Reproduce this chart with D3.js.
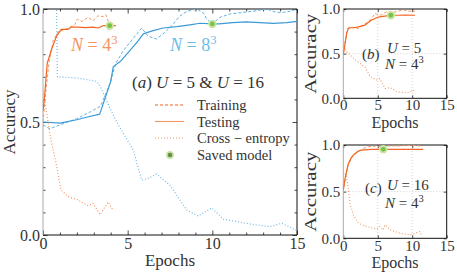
<!DOCTYPE html>
<html><head><meta charset="utf-8">
<script src="https://cdn.jsdelivr.net/npm/d3@7"></script>
<style>
html,body{margin:0;padding:0;background:#fff;}
svg{display:block;font-family:"Liberation Serif","DejaVu Serif",serif;}
</style></head>
<body><svg id="c" width="457" height="274"></svg>
<script>
// ---------- data (epoch, value) ----------
const xTicks = [0, 5, 10, 15];
const yTicks = [0, 0.5, 1];
const yTickLabels = ["0.0", "0.5", "1.0"];

const mainTrain4 = [[0,0.5],[0.15,0.62],[0.35,0.76],[0.6,0.86],[0.9,0.9],[1.3,0.91],[1.6,0.92],[1.87,0.93],[2.03,0.955],[2.3,0.945],[2.66,0.963],[2.95,0.948],[3.25,0.97],[3.55,0.966],[3.7,0.975],[3.94,0.93]];
const mainTest4 = [[0,0.55],[0.1,0.62],[0.25,0.76],[0.5,0.82],[0.8,0.88],[1.08,0.91],[1.48,0.91],[1.67,0.92],[2.07,0.92],[2.5,0.918],[2.95,0.92],[3.25,0.916],[3.54,0.926],[3.94,0.926],[4.3,0.926]];
const mainCE4 = [[0,0.64],[0.47,0.42],[0.77,0.32],[1.06,0.2],[1.48,0.17],[2.07,0.155],[2.66,0.13],[2.95,0.14],[3.37,0.09],[3.84,0.146],[4.13,0.11]];

const mainTrain8 = [[0,0.487],[0.4,0.47],[1,0.487],[2,0.515],[2.8,0.545],[3.4,0.57],[3.96,0.67],[4.3,0.76],[4.74,0.815],[5.43,0.88],[5.83,0.916],[6.2,0.88],[6.7,0.867],[7.2,0.897],[7.6,0.926],[8.1,0.97],[8.5,0.99],[9.1,1.0],[9.5,0.98],[9.67,0.955],[10,0.934],[10.45,0.963],[11.05,0.978],[11.8,0.985],[12.4,0.99],[13.2,1.0],[13.8,0.985],[14.2,0.985],[14.6,0.99],[15,1.0]];
const mainTest8 = [[0,0.5],[1,0.495],[2,0.51],[2.5,0.52],[3.35,0.535],[4.0,0.68],[4.15,0.745],[4.6,0.77],[5.0,0.805],[5.63,0.86],[5.92,0.89],[6.5,0.904],[7.1,0.916],[7.9,0.922],[8.68,0.93],[9.27,0.937],[10,0.934],[10.4,0.934],[11.2,0.94],[12,0.943],[12.8,0.94],[13.6,0.936],[14.4,0.94],[15,0.945]];
const mainCE8 = [[0,6.0],[0.85,0.70],[2.0,0.695],[3.17,0.68],[3.37,0.66],[3.96,0.56],[4.35,0.5],[4.74,0.45],[5.33,0.376],[5.83,0.243],[6.2,0.25],[6.7,0.27],[7.5,0.22],[8.5,0.11],[9.17,0.084],[9.96,0.12],[10.65,0.07],[11.44,0.06],[12.2,0.049],[13.4,0.037],[14.1,0.052],[14.6,0.034],[15.08,0.015]];
const mainSaved = [[3.94,0.926],[10.0,0.934]];

const bTrain = [[0,0.5],[0.3,0.65],[0.6,0.78],[1.0,0.8],[1.6,0.79],[2.2,0.78],[2.8,0.82],[3.5,0.85],[4.1,0.895],[4.6,0.95],[5.2,0.93],[5.6,0.935],[6.3,0.97],[7.0,0.96],[7.7,0.97],[8.7,0.99],[9.5,0.975],[10.4,0.975]];
const bTest = [[0,0.49],[0.5,0.73],[0.73,0.78],[1.0,0.79],[1.5,0.79],[2.2,0.80],[3.15,0.82],[4.1,0.877],[5.1,0.91],[6.0,0.92],[6.9,0.93],[8,0.93],[9,0.932],[10.4,0.93]];
const bCE = [[0,0.58],[0.5,0.52],[1.45,0.45],[2.4,0.39],[3.15,0.35],[3.9,0.24],[4.85,0.205],[5.3,0.22],[6.05,0.11],[6.8,0.12],[7.75,0.075],[9.2,0.06],[10.2,0.09],[10.3,0.07]];
const bSaved = [[6.9,0.93]];

const cTrain = [[0,0.5],[0.3,0.64],[0.7,0.78],[1.2,0.86],[1.7,0.9],[2.2,0.93],[2.8,0.96],[3.6,0.98],[4.3,0.985],[5.0,0.99],[5.8,0.97],[6.5,0.99],[8,0.99],[9.5,0.995],[11.3,0.99]];
const cTest = [[0,0.52],[0.3,0.66],[0.73,0.80],[1.2,0.87],[1.7,0.91],[2.2,0.935],[2.67,0.946],[4.1,0.954],[5.8,0.954],[8,0.954],[10,0.954],[11.6,0.954]];
const cCE = [[0,0.72],[0.5,0.66],[0.97,0.376],[1.45,0.25],[2.2,0.16],[3.4,0.126],[4.85,0.098],[5.3,0.126],[5.8,0.09],[6.05,0.144],[6.8,0.09],[8.2,0.055],[9.7,0.037],[11.1,0.073],[11.3,0.04]];
const cSaved = [[5.8,0.954]];

const legendLabels = ["Training", "Testing", "Cross \u2212 entropy", "Saved model"];

// ---------- styles ----------
const OR = "#f26522", ORL = "#f39a66", ORT = "#f39562";
const BL = "#3b9ad6", BLL = "#5fb2e2", BLT = "#6fbbe7";
const GREEN = "#7cc242", GREENH = "#c6e5a6";
const INK = "#333";

const svg = d3.select("#c");
const defs = svg.append("defs");

function panel(id, x0, x1, y0, y1, opts) {
  const x = d3.scaleLinear([0, 15], [x0, x1]);
  const y = d3.scaleLinear([0, 1], [y1, y0]);
  const g = svg.append("g");
  defs.append("clipPath").attr("id", id).append("rect")
    .attr("x", x0).attr("y", y0).attr("width", x1 - x0).attr("height", y1 - y0);

  if (opts.grid) {
    const gg = g.append("g").attr("stroke", "#c8c8c8").attr("stroke-width", 0.8).attr("stroke-dasharray", "1,2");
    [5, 10].forEach(v => gg.append("line").attr("x1", x(v)).attr("x2", x(v)).attr("y1", y0).attr("y2", y1));
    [0.5].forEach(v => gg.append("line").attr("x1", x0).attr("x2", x1).attr("y1", y(v)).attr("y2", y(v)));
  }

  if (opts.minor) {
    const mx = d3.range(1, 15).filter(v => v % 5 !== 0);
    const my = d3.range(1, 10).map(v => v / 10).filter(v => Math.abs(v - 0.5) > 1e-6);
    const style = s => s.call(a => a.select(".domain").remove()).selectAll("line").attr("stroke", "#999").attr("stroke-width", 0.8);
    g.append("g").attr("transform", `translate(0,${y1})`).call(d3.axisBottom(x).tickValues(mx).tickSize(-2.5).tickFormat("")).call(style);
    g.append("g").attr("transform", `translate(0,${y0})`).call(d3.axisTop(x).tickValues(mx).tickSize(-2.5).tickFormat("")).call(style);
    g.append("g").attr("transform", `translate(${x0},0)`).call(d3.axisLeft(y).tickValues(my).tickSize(-2.5).tickFormat("")).call(style);
    g.append("g").attr("transform", `translate(${x1},0)`).call(d3.axisRight(y).tickValues(my).tickSize(-2.5).tickFormat("")).call(style);
  }

  const fs = opts.tickFont;
  const major = s => s.call(a => a.select(".domain").remove());
  g.append("g").attr("transform", `translate(0,${y1})`)
    .call(d3.axisBottom(x).tickValues(xTicks).tickSize(-opts.tick).tickPadding(opts.xpad).tickFormat(d3.format("d"))).call(major);
  g.append("g").attr("transform", `translate(0,${y0})`)
    .call(d3.axisTop(x).tickValues(xTicks).tickSize(-opts.tick).tickFormat("")).call(major);
  g.append("g").attr("transform", `translate(${x0},0)`)
    .call(d3.axisLeft(y).tickValues(yTicks).tickSize(-opts.tick).tickPadding(3).tickFormat((d, i) => yTickLabels[i])).call(major);
  g.append("g").attr("transform", `translate(${x1},0)`)
    .call(d3.axisRight(y).tickValues(yTicks).tickSize(-opts.tick).tickFormat("")).call(major);
  g.selectAll(".tick line").attr("stroke", "#333").attr("stroke-width", 0.9);
  g.selectAll(".tick text").attr("font-family", "Liberation Serif").attr("font-size", fs).attr("fill", INK);

  g.append("line").attr("x1", x0).attr("x2", x1).attr("y1", y0).attr("y2", y0).attr("stroke", "#111").attr("stroke-width", 1);
  g.append("line").attr("x1", x0).attr("x2", x1).attr("y1", y1).attr("y2", y1).attr("stroke", "#111").attr("stroke-width", 1);
  g.append("line").attr("x1", x1).attr("x2", x1).attr("y1", y0).attr("y2", y1).attr("stroke", "#111").attr("stroke-width", 1);
  g.append("line").attr("x1", x0).attr("x2", x0).attr("y1", y0).attr("y2", y1).attr("stroke", "#aaa").attr("stroke-width", 1);

  g.append("text").attr("x", (x0 + x1) / 2).attr("y", opts.xlabY).attr("text-anchor", "middle")
    .attr("font-size", opts.labFont).attr("fill", INK).text("Epochs");
  g.append("text").attr("transform", `translate(${opts.ylabX},${(y0 + y1) / 2}) rotate(-90)`)
    .attr("text-anchor", "middle").attr("font-size", opts.labFont).attr("fill", INK)
    .attr("textLength", opts.ylabLen || null).attr("lengthAdjust", "spacingAndGlyphs").text("Accuracy");

  const data = g.append("g").attr("clip-path", `url(#${id})`);
  const line = d3.line().x(d => x(d[0])).y(d => y(d[1]));
  return { x, y, g, data, line };
}

function series(p, arr, color, dash, w) {
  p.data.append("path").attr("d", p.line(arr)).attr("fill", "none")
    .attr("stroke", color).attr("stroke-width", w).attr("stroke-dasharray", dash).attr("stroke-linejoin", "round");
}
function saved(p, arr) {
  arr.forEach(d => {
    p.g.append("circle").attr("cx", p.x(d[0])).attr("cy", p.y(d[1])).attr("r", 4.2).attr("fill", GREENH);
    p.g.append("circle").attr("cx", p.x(d[0])).attr("cy", p.y(d[1])).attr("r", 2.4).attr("fill", GREEN);
  });
}
function mathText(g, x, y, size, color, parts) {
  const t = g.append("text").attr("x", x).attr("y", y).attr("font-size", size).attr("fill", color);
  parts.forEach(([s, kind]) => {
    const ts = t.append("tspan").text(s);
    if (kind === "i") ts.attr("font-style", "italic");
    if (kind === "sup") ts.attr("font-size", size * 0.7).attr("dy", -size * 0.38);
  });
  return t;
}

// ---------- main panel ----------
const pa = panel("clipA", 43, 297, 9, 235, { grid: false, minor: true, tick: 4.5, xpad: 3, tickFont: 16, labFont: 17, xlabY: 266, ylabX: 15 });
series(pa, mainCE8, BLT, "1,2", 1.2);
series(pa, mainCE4, ORT, "1,2", 1.2);
series(pa, mainTrain8, BLL, "3,2", 1.0);
series(pa, mainTest8, BL, null, 1.2);
series(pa, mainTrain4, ORL, "3,2", 1.0);
series(pa, mainTest4, OR, null, 1.2);
saved(pa, mainSaved);

mathText(pa.g, 71, 51, 18, ORT, [["N", "i"], [" = 4", ""], ["3", "sup"]]);
mathText(pa.g, 170, 51, 18, BLT, [["N", "i"], [" = 8", ""], ["3", "sup"]]);
mathText(pa.g, 132, 88, 17, INK, [["(", ""], ["a", "i"], [") ", ""], ["U", "i"], [" = 5 & ", ""], ["U", "i"], [" = 16", ""]]);

// legend
const lg = pa.g.append("g");
const legY = [110, 126.5, 143, 160];
const legStyles = [[OR, "3,2"], [ORT, null], [ORT, "1,2"]];
legStyles.forEach(([c, d], i) => {
  lg.append("line").attr("x1", 155).attr("x2", 184).attr("y1", legY[i] - 5).attr("y2", legY[i] - 5)
    .attr("stroke", c).attr("stroke-width", 1.1).attr("stroke-dasharray", d);
});
lg.append("circle").attr("cx", 170).attr("cy", legY[3] - 5).attr("r", 4).attr("fill", GREENH);
lg.append("circle").attr("cx", 170).attr("cy", legY[3] - 5).attr("r", 2.3).attr("fill", "#6a8a50");
legendLabels.forEach((t, i) => {
  lg.append("text").attr("x", 197).attr("y", legY[i]).attr("font-size", 14.5).attr("fill", INK).text(t);
});

// ---------- panel b ----------
const pb = panel("clipB", 343.3, 446.7, 9, 98.3, { grid: true, minor: false, tick: 3, xpad: 1, tickFont: 15, labFont: 16, xlabY: 128, ylabX: 316, ylabLen: 80 });
series(pb, bCE, ORT, "1,2", 1.1);
series(pb, bTrain, ORL, "3,2", 1.0);
series(pb, bTest, OR, null, 1.2);
saved(pb, bSaved);
mathText(pb.g, 362, 59, 15, INK, [["(", ""], ["b", "i"], [")", ""]]);
mathText(pb.g, 387, 53, 15, INK, [["U", "i"], [" = 5", ""]]);
mathText(pb.g, 385, 69, 15, INK, [["N", "i"], [" = 4", ""], ["3", "sup"]]);

// ---------- panel c ----------
const pc = panel("clipC", 343.3, 446.7, 145, 238.3, { grid: true, minor: false, tick: 3, xpad: 2, tickFont: 15, labFont: 16, xlabY: 268, ylabX: 316, ylabLen: 80 });
series(pc, cCE, ORT, "1,2", 1.1);
series(pc, cTrain, ORL, "3,2", 1.0);
series(pc, cTest, OR, null, 1.2);
saved(pc, cSaved);
mathText(pc.g, 365, 193, 15, INK, [["(", ""], ["c", "i"], [")", ""]]);
mathText(pc.g, 387, 190, 15, INK, [["U", "i"], [" = 16", ""]]);
mathText(pc.g, 385, 208, 15, INK, [["N", "i"], [" = 4", ""], ["3", "sup"]]);
</script></body></html>
